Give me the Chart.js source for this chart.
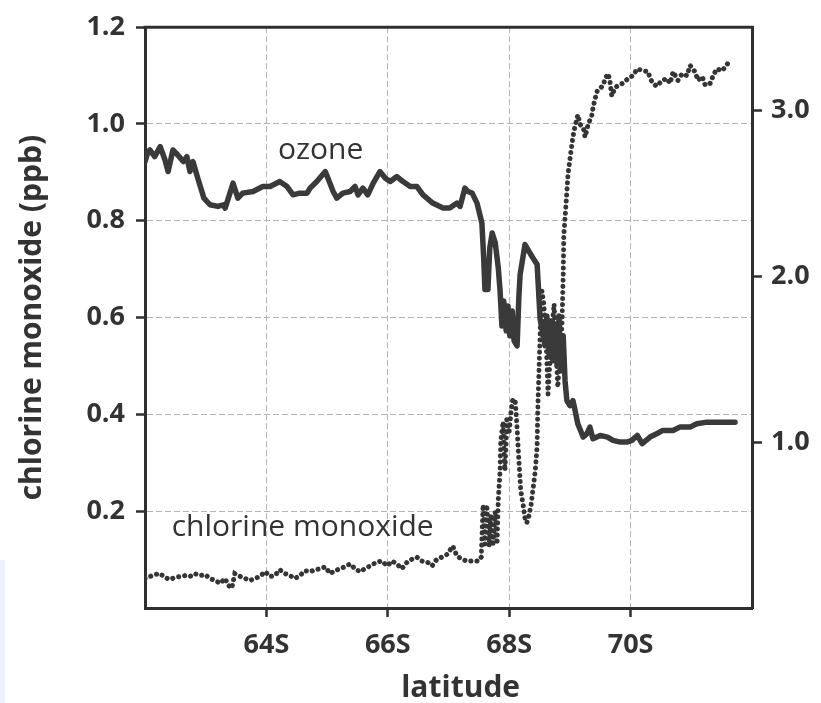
<!DOCTYPE html>
<html><head><meta charset="utf-8">
<script src="https://cdn.jsdelivr.net/npm/chart.js@4.4.1/dist/chart.umd.min.js"></script>
<style>
html,body{margin:0;padding:0;background:#fff;}
#wrap{position:relative;width:821px;height:703px;overflow:hidden;}
#strip{position:absolute;left:0;top:560px;width:5px;height:143px;background:#eaf1fb;}
canvas{position:absolute;left:0;top:0;}
</style></head><body>
<div id="wrap"><div id="strip"></div><canvas id="c" width="821" height="703"></canvas></div>
<script>
// ---- data ----
const xTicks = [64, 66, 68, 70];
const xTickLabels = ['64S', '66S', '68S', '70S'];
const leftTicks = [0.2, 0.4, 0.6, 0.8, 1.0, 1.2];
const rightTicks = [1.0, 2.0, 3.0];
const xTitle = 'latitude';
const yTitle = 'chlorine monoxide (ppb)';
const ozoneLabel = 'ozone';
const cloLabel = 'chlorine monoxide';
const ozoneLabelPos = [64.19, 0.928];   // [latitude, ppb on left axis]
const cloLabelPos = [62.44, 0.148];

const ozoneLat = [62.00,62.05,62.08,62.16,62.25,62.33,62.38,62.46,62.54,62.63,62.69,62.74,62.79,62.87,62.97,63.07,63.20,63.29,63.32,63.40,63.45,63.53,63.61,63.78,63.94,64.06,64.22,64.34,64.44,64.55,64.67,64.72,64.83,64.97,65.10,65.16,65.26,65.38,65.46,65.51,65.59,65.67,65.76,65.87,65.96,66.04,66.15,66.25,66.37,66.48,66.58,66.74,66.91,67.02,67.14,67.19,67.27,67.32,67.39,67.47,67.55,67.58,67.60,67.65,67.68,67.72,67.77,67.82,67.85,67.88,67.91,67.95,67.98,68.01,68.05,68.08,68.13,68.16,68.18,68.26,68.34,68.39,68.46,68.51,68.56,68.59,68.62,68.66,68.69,68.72,68.75,68.79,68.82,68.85,68.89,68.92,68.95,69.00,69.05,69.08,69.13,69.22,69.28,69.33,69.38,69.50,69.62,69.71,69.83,69.94,70.02,70.11,70.19,70.32,70.43,70.53,70.70,70.81,70.98,71.09,71.26,71.42,71.59,71.72];
const ozonePpm = [2.69,2.75,2.76,2.72,2.78,2.70,2.63,2.76,2.73,2.69,2.72,2.63,2.69,2.59,2.47,2.43,2.42,2.43,2.41,2.50,2.56,2.47,2.50,2.51,2.54,2.54,2.57,2.54,2.49,2.50,2.50,2.53,2.57,2.63,2.51,2.47,2.50,2.51,2.54,2.49,2.53,2.49,2.56,2.63,2.59,2.57,2.60,2.57,2.54,2.54,2.49,2.44,2.41,2.41,2.44,2.42,2.53,2.51,2.50,2.44,2.32,2.11,1.92,1.92,2.17,2.26,2.20,2.05,1.91,1.70,1.85,1.67,1.82,1.64,1.79,1.61,1.58,1.88,2.01,2.19,2.14,2.11,2.07,1.74,1.64,1.58,1.76,1.52,1.73,1.49,1.70,1.46,1.76,1.43,1.64,1.37,1.25,1.22,1.25,1.20,1.11,1.03,1.05,1.09,1.02,1.04,1.03,1.01,1.00,1.00,1.01,1.04,0.99,1.03,1.05,1.07,1.07,1.09,1.09,1.11,1.12,1.12,1.12,1.12];

const cloLat = [62.00,62.08,62.16,62.25,62.33,62.41,62.49,62.58,62.66,62.74,62.82,62.91,62.99,63.07,63.15,63.24,63.32,63.37,63.43,63.48,63.57,63.65,63.73,63.81,63.89,63.98,64.06,64.14,64.22,64.31,64.39,64.47,64.55,64.64,64.72,64.80,64.88,64.97,65.05,65.13,65.21,65.29,65.38,65.46,65.54,65.62,65.71,65.82,65.90,65.99,66.07,66.15,66.23,66.32,66.40,66.48,66.56,66.65,66.73,66.81,66.89,66.98,67.07,67.14,67.22,67.30,67.40,67.49,67.54,
  67.55,67.57,67.60,67.63,67.67,67.70,67.73,67.77,67.80,67.82,67.85,67.86,67.90,67.91,67.93,67.95,67.96,68.00,68.03,68.06,68.10,68.13,68.16,68.19,68.23,68.26,68.29,68.33,68.36,68.39,68.43,68.46,68.47,68.49,68.51,68.52,68.54,68.57,68.61,68.64,68.67,68.71,68.74,68.77,68.80,68.84,68.87,68.89,68.90,68.94,68.97,69.02,69.05,69.08,69.12,69.13,
  69.17,69.22,69.25,69.30,69.36,69.38,69.41,69.45,69.55,69.58,69.63,69.66,69.69,69.74,69.79,69.87,69.96,70.04,70.11,70.20,70.29,70.32,70.37,70.43,70.52,70.60,70.65,70.70,70.78,70.85,70.93,70.98,71.06,71.11,71.18,71.23,71.31,71.36,71.42,71.51,71.60];
const cloPpb = [0.061,0.065,0.069,0.071,0.063,0.059,0.063,0.065,0.067,0.065,0.071,0.067,0.069,0.061,0.057,0.051,0.061,0.047,0.041,0.071,0.065,0.061,0.057,0.061,0.065,0.075,0.065,0.067,0.079,0.071,0.067,0.061,0.067,0.077,0.075,0.079,0.081,0.085,0.071,0.077,0.081,0.085,0.091,0.081,0.075,0.081,0.087,0.095,0.097,0.087,0.097,0.091,0.081,0.095,0.101,0.105,0.097,0.095,0.087,0.101,0.105,0.111,0.128,0.107,0.101,0.097,0.097,0.097,0.105,
  0.142,0.213,0.132,0.213,0.128,0.193,0.128,0.199,0.132,0.223,0.284,0.344,0.385,0.334,0.284,0.344,0.389,0.365,0.405,0.432,0.426,0.371,0.304,0.243,0.213,0.186,0.176,0.193,0.213,0.243,0.284,0.334,0.405,0.486,0.567,0.628,0.655,0.628,0.547,0.442,0.507,0.588,0.628,0.547,0.456,0.527,0.588,0.689,0.770,0.841,0.898,0.946,0.973,0.993,1.013,1.019,
  0.999,0.993,0.973,0.999,1.017,1.033,1.050,1.068,1.080,1.094,1.104,1.088,1.058,1.074,1.080,1.084,1.094,1.100,1.114,1.110,1.108,1.094,1.084,1.078,1.090,1.094,1.084,1.108,1.090,1.104,1.100,1.121,1.108,1.090,1.098,1.080,1.084,1.100,1.114,1.110,1.125];

// ---- styling ----
const INK = '#2f2f2f';
const TXT = '#333333';
const GRID = '#b4b4b4';
const FONT = '"Open Sans", "DejaVu Sans", sans-serif';

const extras = {
  id: 'extras',
  afterDraw(chart) {
    const {ctx, chartArea: a, scales} = chart;
    ctx.save();
    ctx.strokeStyle = INK; ctx.lineWidth = 3;
    ctx.beginPath(); ctx.moveTo(a.left - 1.5, a.top); ctx.lineTo(a.right + 1.5, a.top); ctx.stroke();
    ctx.fillStyle = TXT;
    ctx.textBaseline = 'alphabetic';
    ctx.textAlign = 'left';
    ctx.font = '30px ' + FONT;
    ctx.fillText(ozoneLabel, scales.x.getPixelForValue(ozoneLabelPos[0]), scales.y.getPixelForValue(ozoneLabelPos[1]));
    ctx.fillText(cloLabel, scales.x.getPixelForValue(cloLabelPos[0]), scales.y.getPixelForValue(cloLabelPos[1]));
    ctx.font = 'bold 30px ' + FONT;
    ctx.textAlign = 'center';
    ctx.fillText(xTitle, scales.x.getPixelForValue(67.2), 697);
    ctx.restore();
  }
};

new Chart(document.getElementById('c'), {
  type: 'line',
  data: {
    datasets: [
      {
        label: 'ozone',
        yAxisID: 'y2',
        data: ozoneLat.map((v, i) => ({x: v, y: ozonePpm[i]})),
        borderColor: '#3a3a3a',
        borderWidth: 5.5,
        pointRadius: 0,
        tension: 0,
        borderJoinStyle: 'round',
        borderCapStyle: 'round'
      },
      {
        label: 'chlorine monoxide',
        yAxisID: 'y',
        data: cloLat.map((v, i) => ({x: v, y: cloPpb[i]})),
        borderColor: '#353535',
        borderWidth: 5,
        borderDash: [0.1, 6],
        borderCapStyle: 'round',
        pointRadius: 0,
        tension: 0
      }
    ]
  },
  options: {
    responsive: false,
    animation: false,
    devicePixelRatio: 1,
    layout: {padding: {top: 18, left: 0, right: 0, bottom: 0}},
    plugins: {legend: {display: false}, tooltip: {enabled: false}},
    scales: {
      x: {
        type: 'linear', min: 62, max: 72, position: 'bottom',
        afterBuildTicks: s => { s.ticks = xTicks.map(v => ({value: v})); },
        afterFit: s => { s.height = 95; },
        ticks: {
          callback: v => xTickLabels[xTicks.indexOf(v)] ?? '',
          font: {family: FONT, size: 27, weight: 'bold'}, color: TXT, padding: 12, maxRotation: 0
        },
        grid: {color: GRID, lineWidth: 1, tickLength: 9, tickColor: INK, tickWidth: 2.5},
        border: {display: true, color: INK, width: 3, dash: [6, 3]},
        title: {display: false}
      },
      y: {
        type: 'linear', min: 0, max: 1.2, position: 'left',
        afterBuildTicks: s => { s.ticks = leftTicks.map(v => ({value: v})); },
        afterFit: s => { s.width = 145; },
        ticks: {
          callback: v => v.toFixed(1),
          font: {family: FONT, size: 27, weight: 'bold'}, color: TXT, padding: 11
        },
        grid: {color: c => (c.tick && c.tick.value >= 1.19) ? 'rgba(0,0,0,0)' : GRID, lineWidth: 1, tickLength: 9, tickColor: INK, tickWidth: 2.5},
        border: {display: true, color: INK, width: 3, dash: [6, 3]},
        title: {display: true, text: yTitle, font: {family: FONT, size: 30, weight: 'bold'}, color: TXT, padding: {top: 14, bottom: 0}}
      },
      y2: {
        type: 'linear', min: 0, max: 3.5, position: 'right',
        afterBuildTicks: s => { s.ticks = rightTicks.map(v => ({value: v})); },
        afterFit: s => { s.width = 69; },
        ticks: {
          callback: v => v.toFixed(1),
          font: {family: FONT, size: 27, weight: 'bold'}, color: TXT, padding: 9
        },
        grid: {drawOnChartArea: false, tickLength: 10, tickColor: INK, tickWidth: 2.5},
        border: {display: true, color: INK, width: 3}
      }
    }
  },
  plugins: [extras]
});
</script>
</body></html>
